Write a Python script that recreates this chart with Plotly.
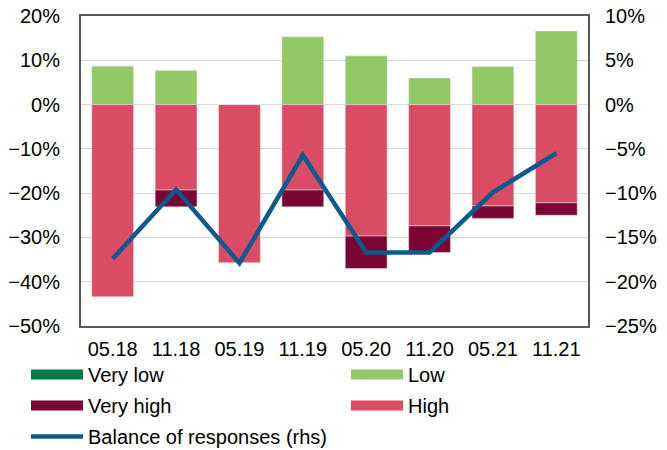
import plotly.graph_objects as go

categories = ["05.18", "11.18", "05.19", "11.19", "05.20", "11.20", "05.21", "11.21"]
very_low = [0, 0, 0, 0, 0, 0, 0, 0]
low = [8.7, 7.7, 0, 15.3, 11.0, 6.0, 8.6, 16.6]
high = [-43.4, -19.3, -35.7, -19.3, -29.7, -27.4, -22.9, -22.2]
very_high = [0, -3.8, 0, -3.8, -7.3, -6.0, -2.8, -2.8]
balance = [-17.4, -9.6, -17.9, -5.7, -16.7, -16.7, -9.9, -5.5]

C_VLOW = "#007a46"
C_LOW = "#92c865"
C_VHIGH = "#7b0532"
C_HIGH = "#da4c63"
C_LINE = "#0b5a8f"

FONT = "Liberation Sans, Arial, sans-serif"
FS = 20

fig = go.Figure()

# bars (stacked relative)
fig.add_bar(x=categories, y=very_low, marker_color=C_VLOW, showlegend=False, name="Very low")
fig.add_bar(x=categories, y=low, marker_color=C_LOW, showlegend=False, name="Low")
fig.add_bar(x=categories, y=high, marker_color=C_HIGH, showlegend=False, name="High")
fig.add_bar(x=categories, y=very_high, marker_color=C_VHIGH, showlegend=False, name="Very high")

fig.add_scatter(x=categories, y=balance, yaxis="y2", mode="lines",
                line=dict(color=C_LINE, width=4.5), showlegend=False,
                name="Balance of responses (rhs)")

# legend entries
def leg(name, color, width, legend, group):
    fig.add_scatter(x=[None], y=[None], mode="lines", name=name,
                    line=dict(color=color, width=width), legend=legend,
                    legendgroup=group, showlegend=True)

leg("Very low", C_VLOW, 10, "legend", "a")
leg("Very high", C_VHIGH, 10, "legend", "b")
leg("Balance of responses (rhs)", C_LINE, 4.5, "legend", "c")
leg("Low", C_LOW, 10, "legend2", "d")
leg("High", C_HIGH, 10, "legend2", "e")

W, H = 667, 450
PL, PR, PT, PB = 81, 588, 16, 326
pw, ph = PR - PL, PB - PT

def px_x(x):
    return (x - PL) / pw

def px_y(y):
    return (PB - y) / ph

fig.update_layout(
    width=W, height=H,
    margin=dict(l=PL, r=W - PR, t=PT, b=H - PB, autoexpand=False),
    paper_bgcolor="white", plot_bgcolor="white",
    barmode="relative", bargap=0.34,
    font=dict(family=FONT, size=FS, color="#000000"),
    xaxis=dict(showline=True, mirror=True, linecolor="#595959", linewidth=2,
               ticks="", ticklabelstandoff=4, showgrid=False, automargin=False,
               ticklabeloverflow="allow"),
    yaxis=dict(range=[-50, 20], dtick=10, ticksuffix="%", showgrid=True,
               gridcolor="#d9d9d9", gridwidth=1, zeroline=False,
               showline=True, mirror=True, linecolor="#595959", linewidth=2,
               ticks="", ticklabelstandoff=15, automargin=False,
               ticklabeloverflow="allow"),
    yaxis2=dict(range=[-25, 10], dtick=5, ticksuffix="%", overlaying="y",
                side="right", showgrid=False, zeroline=False, ticks="",
                ticklabelstandoff=16, automargin=False,
                ticklabeloverflow="allow"),
    legend=dict(orientation="v", x=px_x(26), xanchor="left", y=px_y(355), yanchor="top",
                tracegroupgap=2, bgcolor="rgba(0,0,0,0)", itemwidth=52,
                font=dict(family=FONT, size=FS)),
    legend2=dict(orientation="v", x=px_x(346), xanchor="left", y=px_y(355), yanchor="top",
                 tracegroupgap=2, bgcolor="rgba(0,0,0,0)", itemwidth=52,
                 font=dict(family=FONT, size=FS)),
)

# remove the default 8px page margin so the figure sits at the window corner
fig.write_html("out.html", config={"displayModeBar": False},
               post_script="document.body.style.margin='0';")
